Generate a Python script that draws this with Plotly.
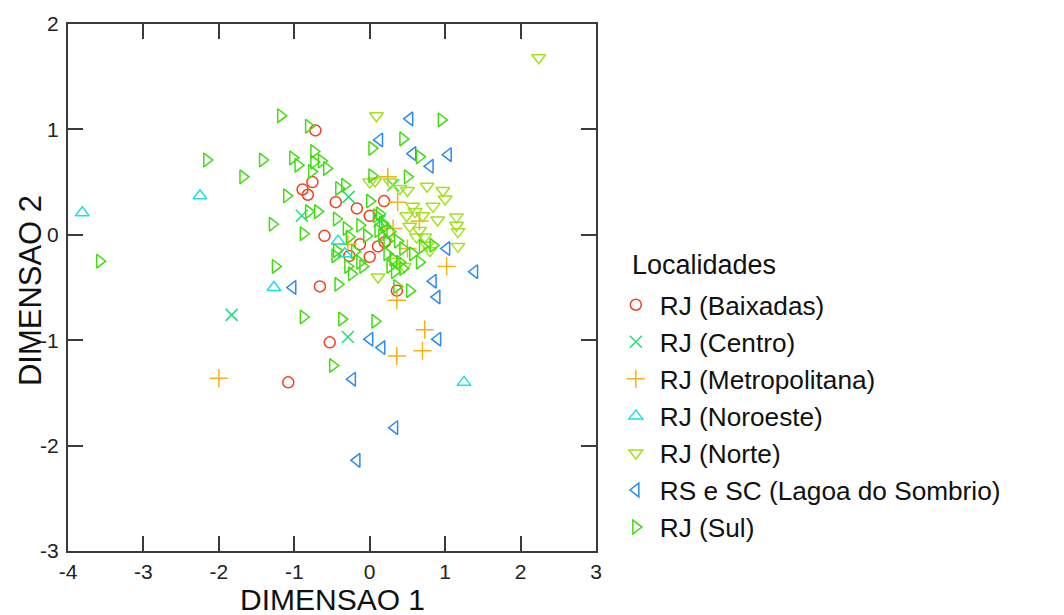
import plotly.graph_objects as go

# ---- data (DIMENSAO 1, DIMENSAO 2) per locality ----
baixadas_x = [-0.72, -0.89, -0.76, -0.82, -0.45, -0.17, 0.19, 0.00, -0.60, -0.13, -0.27, 0.00, 0.11, 0.20, -0.66, 0.36, -0.53, -1.08]
baixadas_y = [0.99, 0.43, 0.50, 0.38, 0.31, 0.25, 0.32, 0.18, -0.01, -0.09, -0.20, -0.21, -0.11, -0.07, -0.49, -0.53, -1.02, -1.40]

centro_x = [-1.83, -0.90, -0.28, 0.31, -0.29, 0.13]
centro_y = [-0.76, 0.18, 0.36, 0.47, -0.97, 0.13]

metro_x = [-2.00, 0.36, 0.73, 0.70, 0.36, 1.02, 0.24, 0.37, 0.66, 0.31, 0.50, -0.29]
metro_y = [-1.36, -1.15, -0.90, -1.10, -0.62, -0.30, 0.55, 0.31, 0.13, 0.06, -0.13, -0.09]

noroeste_x = [-3.81, -2.25, -1.27, 1.25, -0.42, -0.33]
noroeste_y = [0.21, 0.37, -0.50, -1.40, -0.06, -0.18]

norte_x = [2.24, 0.09, 0.07, 0.27, 0.40, 0.50, 0.76, 0.97, 1.00, 0.84, 0.57, 0.60, 0.49, 0.70, 0.90, 1.15, 1.15, 1.17,
           0.66, 0.62, 0.73, 0.76, 1.17, 0.80, 0.11, 0.33, 0.46, 0.00, 0.53]
norte_y = [1.68, 1.13, 0.51, 0.50, 0.44, 0.42, 0.46, 0.42, 0.34, 0.27, 0.27, 0.22, 0.18, 0.18, 0.14, 0.17, 0.09, 0.03,
           0.04, -0.02, -0.02, -0.10, -0.11, -0.15, -0.40, -0.25, -0.30, 0.50, 0.08]

lagoa_x = [0.53, 0.13, 0.57, 1.04, 0.80, 1.39, 1.02, 0.84, 0.89, -1.02, 0.90, 0.00, 0.16, -0.23, 0.33, -0.17]
lagoa_y = [1.10, 0.90, 0.77, 0.76, 0.65, -0.35, -0.13, -0.44, -0.59, -0.50, -0.99, -0.99, -1.07, -1.37, -1.83, -2.14]

sul_x = [-3.58, -2.16, -1.68, -1.42, -1.18, -0.81, -1.02, -0.95, -0.74, -0.74, -0.64, -0.77, -0.57, -1.10, -1.29, -0.88,
         -0.41, -0.33, -0.81, -0.69, -1.25, -0.88, -0.37, 0.07, -0.49, 0.53, 0.03, 0.50, 0.44, 0.95, 0.03, 0.66, 0.00,
         -0.44, -0.31, -0.13, -0.04, -0.27, 0.09, 0.17, 0.23, 0.37, 0.44, 0.23, 0.31, 0.57, 0.70, 0.84, 0.66, 0.40,
         0.44, 0.33, 0.27, -0.20, -0.44, -0.46, -0.29, -0.24, -0.13, -0.09, -0.42, 0.36, 0.16, 0.13, 0.20, 0.11, 0.27]
sul_y = [-0.25, 0.71, 0.55, 0.71, 1.13, 1.03, 0.73, 0.66, 0.79, 0.69, 0.70, 0.60, 0.63, 0.37, 0.10, 0.01,
         0.44, 0.47, 0.22, 0.22, -0.30, -0.78, -0.80, -0.82, -1.24, -0.53, 0.56, 0.55, 0.91, 1.09, 0.82, 0.74, 0.32,
         0.15, 0.06, 0.09, -0.01, -0.02, 0.18, 0.11, -0.06, -0.06, -0.13, -0.18, -0.23, -0.18, -0.11, -0.10, -0.26, -0.26,
         -0.32, -0.35, -0.30, -0.16, -0.15, -0.20, -0.30, -0.37, -0.26, -0.30, -0.47, -0.49, -0.01, 0.20, 0.08, 0.04, 0.03]

x_tickvals = [-4, -3, -2, -1, 0, 1, 2, 3]
x_ticktext = ["-4", "-3", "-2", "-1", "0", "1", "2", "3"]
y_tickvals = [-3, -2, -1, 0, 1, 2]
y_ticktext = ["-3", "-2", "-1", "0", "1", "2"]

x_title = "DIMENSAO 1"
y_title = "DIMENSAO 2"
legend_title = "Localidades"

series = [
    ("RJ (Baixadas)", baixadas_x, baixadas_y, "circle-open", "#F0401E", 11),
    ("RJ (Centro)", centro_x, centro_y, "x-thin-open", "#22DD77", 12),
    ("RJ (Metropolitana)", metro_x, metro_y, "cross-thin-open", "#F5B01E", 13),
    ("RJ (Noroeste)", noroeste_x, noroeste_y, "triangle-up-open", "#1EE0E0", 12),
    ("RJ (Norte)", norte_x, norte_y, "triangle-down-open", "#A5E01E", 12),
    ("RS e SC (Lagoa do Sombrio)", lagoa_x, lagoa_y, "triangle-left-open", "#2A8CF0", 12),
    ("RJ (Sul)", sul_x, sul_y, "triangle-right-open", "#40DD10", 12),
]

fig = go.Figure()
for name, xs, ys, sym, col, sz in series:
    fig.add_trace(go.Scatter(
        x=xs, y=ys, mode="markers", name=name,
        marker=dict(symbol=sym, size=sz, color=col, line=dict(color=col, width=1.5)),
    ))

axis_common = dict(
    showgrid=False, zeroline=False, showline=True, linecolor="#3a3a3a", linewidth=2,
    mirror="ticks", ticks="inside", ticklen=15, tickwidth=1.5, tickcolor="#3a3a3a",
    tickfont=dict(family="Liberation Sans, Arial", size=21, color="#222222"),
    tickmode="array",
)

fig.update_layout(
    width=1064, height=615,
    margin=dict(l=68, r=468, t=24, b=64),
    paper_bgcolor="white", plot_bgcolor="white",
    font=dict(family="Liberation Sans, Arial", color="#111111"),
    xaxis=dict(range=[-4, 3], tickvals=x_tickvals, ticktext=x_ticktext, ticklabelstandoff=1, **axis_common),
    yaxis=dict(range=[-3, 2], tickvals=y_tickvals, ticktext=y_ticktext, ticklabelstandoff=3, **axis_common),
    legend=dict(
        x=1.03, xanchor="left", y=0.512, yanchor="top",
        font=dict(size=26.2), itemwidth=38, bgcolor="rgba(0,0,0,0)",
    ),
    showlegend=True,
    annotations=[
        dict(text=x_title, xref="paper", yref="paper", x=0.5, y=-0.092, xanchor="center", yanchor="middle",
             showarrow=False, font=dict(size=30, color="#111111")),
        dict(text=y_title, xref="paper", yref="paper", x=-0.072, y=0.495, xanchor="center", yanchor="middle",
             textangle=-90, showarrow=False, font=dict(size=31, color="#111111")),
        dict(text=legend_title, xref="paper", yref="paper", x=1.064, y=0.543, xanchor="left", yanchor="middle",
             showarrow=False, font=dict(size=27, color="#111111")),
    ],
)

fig.write_html("out.html")
